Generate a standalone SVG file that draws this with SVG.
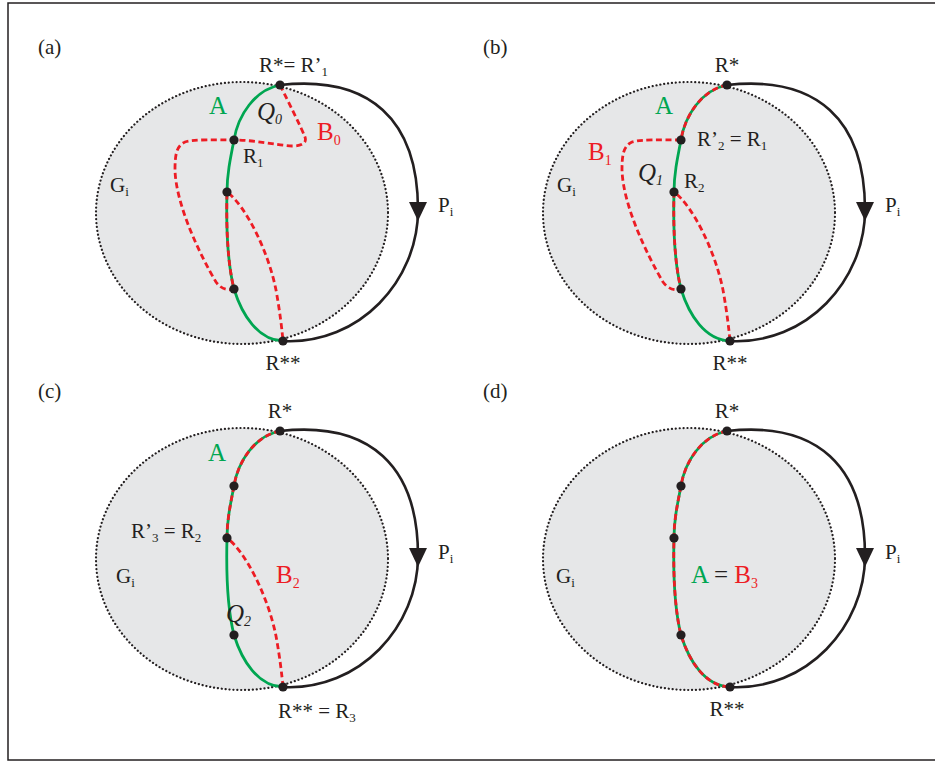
<svg xmlns="http://www.w3.org/2000/svg" xmlns:xlink="http://www.w3.org/1999/xlink" width="935" height="762" viewBox="0 0 935 762" font-family="'Liberation Serif', 'DejaVu Serif', serif">
<style>
.g{fill:#e6e7e8;stroke:#231f20;stroke-width:2.2;stroke-dasharray:0.1 3.8;stroke-linecap:round}
.p{fill:none;stroke:#231f20;stroke-width:2.6}
.a{fill:none;stroke:#00a651;stroke-width:2.8}
.b{fill:none;stroke:#ed1c24;stroke-width:2.8;stroke-dasharray:6 3.5}
.d{fill:#231f20}
text{font-family:'Liberation Serif','DejaVu Serif',serif;fill:#231f20}
.l{font-size:21px}
.big{font-size:25px}
.gr{fill:#00a651}
.rd{fill:#ed1c24}
.q{font-size:25px;font-style:italic}
</style>
<defs>
<ellipse id="ell" cx="242" cy="213" rx="146" ry="131" class="g"/>
<g id="arc">
<path class="p" d="M280,85 C370,75 418,120 418,210 C418,280 360,345 283,341"/>
<polygon class="d" points="409,202 427,202 418,221"/>
</g>
<path id="acurve" class="a" d="M280,85 C255,90 238,115 234,140 C230,160 227,175 227,192 C226,230 228,265 234,289 C242,315 258,340 283,341"/>
<g id="dots">
<circle class="d" cx="280" cy="85" r="4.6"/>
<circle class="d" cx="234" cy="140" r="4.6"/>
<circle class="d" cx="227" cy="192" r="4.6"/>
<circle class="d" cx="234" cy="289" r="4.6"/>
<circle class="d" cx="283" cy="341" r="4.6"/>
</g>
</defs>
<rect x="0" y="0" width="935" height="762" fill="#ffffff"/>
<rect x="8" y="3" width="940" height="757" fill="none" stroke="#231f20" stroke-width="1.5"/>

<g id="panel-a">
<use xlink:href="#ell"/>
<use xlink:href="#arc"/>
<use xlink:href="#acurve"/>
<path class="b" d="M280,85 C290,105 300,125 305,137 C307,143 302,146 292,146 C275,145 255,140 234,140 C215,140 195,139 185,142 C176,146 175,156 175,170 C176,205 200,255 216,282 C221,289 228,291 234,289 C228,265 226,230 227,192 C245,205 268,250 276,290 C280,312 282,330 283,341"/>
<use xlink:href="#dots"/>
<text class="l" x="38" y="54">(a)</text>
<text class="l" x="259" y="72">R*= R’<tspan font-size="13" dy="4">1</tspan></text>
<text class="big gr" x="209" y="114">A</text>
<text class="q" x="257" y="120">Q<tspan font-size="14" dy="4">0</tspan></text>
<text class="big rd" x="317" y="140">B<tspan font-size="14" dy="5">0</tspan></text>
<text class="l" x="243" y="163">R<tspan font-size="13" dy="4">1</tspan></text>
<text class="l" x="110" y="192">G<tspan font-size="13" dy="4">i</tspan></text>
<text class="l" x="438" y="212">P<tspan font-size="13" dy="4">i</tspan></text>
<text class="l" x="283" y="370" text-anchor="middle">R**</text>
</g>

<g id="panel-b" transform="translate(447,0)">
<use xlink:href="#ell"/>
<use xlink:href="#arc"/>
<use xlink:href="#acurve"/>
<path class="b" d="M280,85 C255,90 238,115 234,140 C215,140 195,139 185,142 C176,146 175,156 175,170 C176,205 200,255 216,282 C221,289 228,291 234,289 C228,265 226,230 227,192 C245,205 268,250 276,290 C280,312 282,330 283,341"/>
<use xlink:href="#dots"/>
<text class="l" x="36" y="54">(b)</text>
<text class="l" x="280" y="72" text-anchor="middle">R*</text>
<text class="big gr" x="208" y="114">A</text>
<text class="l" x="250" y="146">R’<tspan font-size="13" dy="4">2</tspan><tspan dy="-4"> = R</tspan><tspan font-size="13" dy="4">1</tspan></text>
<text class="big rd" x="141" y="160">B<tspan font-size="14" dy="5">1</tspan></text>
<text class="q" x="191" y="181">Q<tspan font-size="14" dy="4">1</tspan></text>
<text class="l" x="237" y="188">R<tspan font-size="13" dy="4">2</tspan></text>
<text class="l" x="110" y="192">G<tspan font-size="13" dy="4">i</tspan></text>
<text class="l" x="438" y="212">P<tspan font-size="13" dy="4">i</tspan></text>
<text class="l" x="283" y="370" text-anchor="middle">R**</text>
</g>

<g id="panel-c" transform="translate(0,346)">
<use xlink:href="#ell"/>
<use xlink:href="#arc"/>
<use xlink:href="#acurve"/>
<path class="b" d="M280,85 C255,90 238,115 234,140 C230,160 227,175 227,192 C245,205 268,250 276,290 C280,312 282,330 283,341"/>
<use xlink:href="#dots"/>
<text class="l" x="38" y="52">(c)</text>
<text class="l" x="280" y="72" text-anchor="middle">R*</text>
<text class="big gr" x="208" y="115">A</text>
<text class="l" x="131" y="192">R’<tspan font-size="13" dy="4">3</tspan><tspan dy="-4"> = R</tspan><tspan font-size="13" dy="4">2</tspan></text>
<text class="big rd" x="276" y="237">B<tspan font-size="14" dy="5">2</tspan></text>
<text class="l" x="116" y="237">G<tspan font-size="13" dy="4">i</tspan></text>
<text class="q" x="226" y="276">Q<tspan font-size="14" dy="4">2</tspan></text>
<text class="l" x="438" y="213">P<tspan font-size="13" dy="4">i</tspan></text>
<text class="l" x="278" y="372">R** = R<tspan font-size="13" dy="4">3</tspan></text>
</g>

<g id="panel-d" transform="translate(447,346)">
<use xlink:href="#ell"/>
<use xlink:href="#arc"/>
<use xlink:href="#acurve"/>
<path class="b" d="M280,85 C255,90 238,115 234,140 C230,160 227,175 227,192 C226,230 228,265 234,289 C242,315 258,340 283,341"/>
<use xlink:href="#dots"/>
<text class="l" x="36" y="52">(d)</text>
<text class="l" x="280" y="72" text-anchor="middle">R*</text>
<text class="l" x="109" y="237">G<tspan font-size="13" dy="4">i</tspan></text>
<text class="big" x="244" y="237"><tspan class="gr">A</tspan> = <tspan class="rd">B</tspan><tspan class="rd" font-size="14" dy="5">3</tspan></text>
<text class="l" x="438" y="213">P<tspan font-size="13" dy="4">i</tspan></text>
<text class="l" x="280" y="370" text-anchor="middle">R**</text>
</g>
</svg>
